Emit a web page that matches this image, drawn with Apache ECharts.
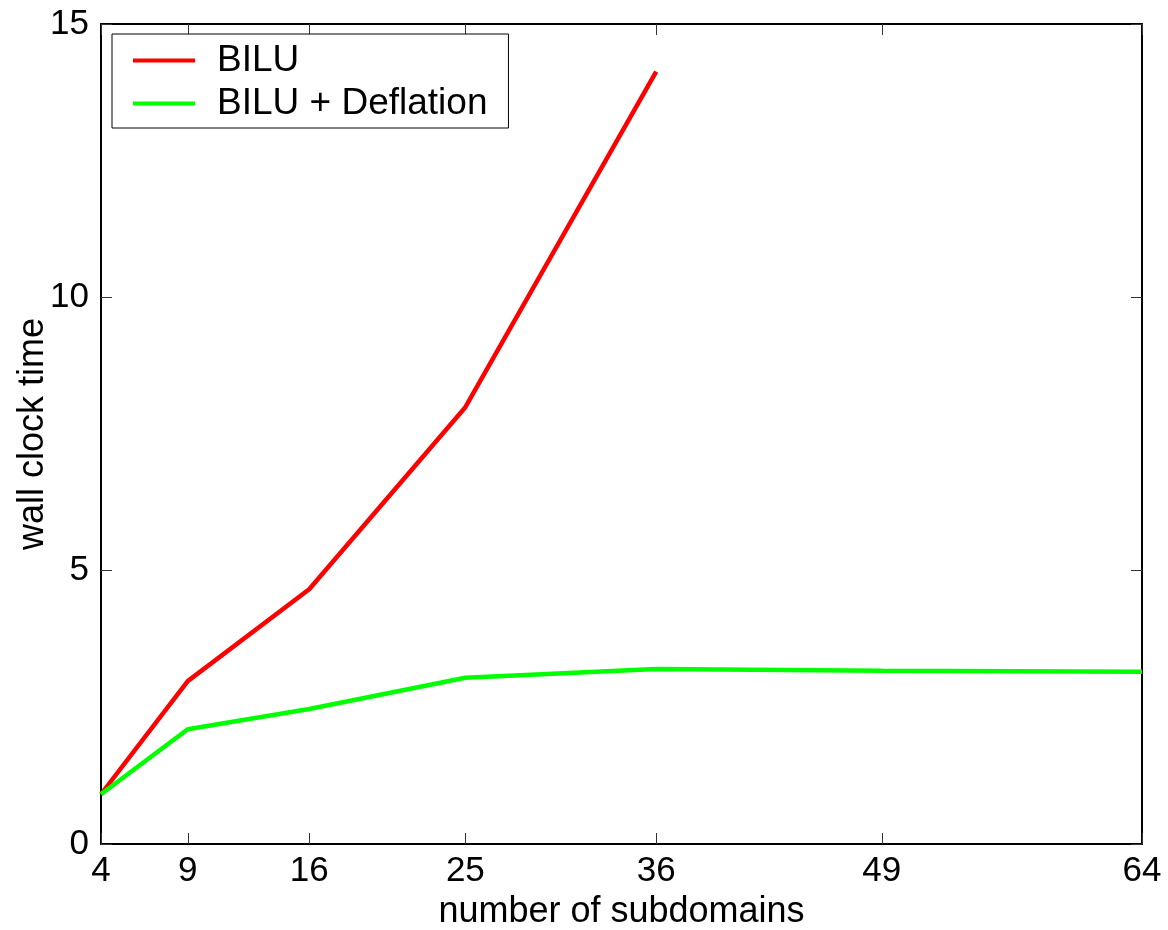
<!DOCTYPE html>
<html>
<head>
<meta charset="utf-8">
<script src="https://cdn.jsdelivr.net/npm/echarts@6/dist/echarts.min.js"></script>
<style>
html,body{margin:0;padding:0;background:#fff;}
#chart{width:1168px;height:930px;}
</style>
</head>
<body>
<div id="chart"></div>
<script>
const subdomains = [4, 9, 16, 25, 36, 49, 64];
const xTicks = [4, 9, 16, 25, 36, 49, 64];
const biluTime = [0.91, 2.98, 4.66, 7.99, 14.13];
const deflationTime = [0.91, 2.10, 2.47, 3.04, 3.20, 3.17, 3.15];
const seriesNames = ['BILU', 'BILU + Deflation'];

const FONT = "'Liberation Sans', Arial, Helvetica, sans-serif";

function pairs(xs, ys) { return ys.map((y, i) => [xs[i], y]); }

const chart = echarts.init(document.getElementById('chart'), null, {renderer: 'canvas'});
const axisLineStyle = {color: '#000', width: 2};
const tickStyle = {color: '#333', width: 1};

chart.setOption({
  animation: false,
  backgroundColor: '#fff',
  grid: {left: 101, right: 26, top: 24, bottom: 86, containLabel: false, outerBoundsMode: 'none'},
  legend: {
    orient: 'vertical',
    left: 112, top: 34,
    data: seriesNames,
    icon: 'rect',
    itemWidth: 62, itemHeight: 4,
    itemGap: 6,
    padding: [8, 21, 6, 21],
    backgroundColor: '#fff',
    borderColor: '#000', borderWidth: 1,
    borderRadius: 0,
    textStyle: {fontFamily: FONT, fontSize: 37, color: '#000', padding: [0, 0, 0, 17], lineHeight: 37}
  },
  xAxis: [{
    type: 'value', min: 4, max: 64, position: 'bottom',
    name: 'number of subdomains', nameLocation: 'middle', nameGap: 35,
    nameTextStyle: {fontFamily: FONT, fontSize: 36, color: '#000'},
    axisLine: {show: true, onZero: false, lineStyle: axisLineStyle},
    axisTick: {show: true, inside: true, length: 11, customValues: xTicks, lineStyle: tickStyle},
    axisLabel: {show: true, customValues: xTicks, margin: 10, fontFamily: FONT, fontSize: 35, color: '#000'},
    splitLine: {show: false}
  }, {
    type: 'value', min: 4, max: 64, position: 'top',
    axisLine: {show: true, onZero: false, lineStyle: axisLineStyle},
    axisTick: {show: true, inside: true, length: 11, customValues: xTicks, lineStyle: tickStyle},
    axisLabel: {show: false},
    splitLine: {show: false}
  }],
  yAxis: [{
    type: 'value', min: 0, max: 15, interval: 5, position: 'left',
    name: 'wall clock time', nameLocation: 'middle', nameGap: 50, nameRotate: 90,
    nameMoveOverlap: false,
    nameTextStyle: {fontFamily: FONT, fontSize: 36, color: '#000'},
    axisLine: {show: true, onZero: false, lineStyle: axisLineStyle},
    axisTick: {show: true, inside: true, length: 11, lineStyle: tickStyle},
    axisLabel: {show: true, margin: 12, fontFamily: FONT, fontSize: 35, color: '#000'},
    splitLine: {show: false}
  }, {
    type: 'value', min: 0, max: 15, interval: 5, position: 'right',
    axisLine: {show: true, onZero: false, lineStyle: axisLineStyle},
    axisTick: {show: true, inside: true, length: 11, lineStyle: tickStyle},
    axisLabel: {show: false},
    splitLine: {show: false}
  }],
  series: [{
    name: seriesNames[0], type: 'line', xAxisIndex: 0, yAxisIndex: 0,
    data: pairs(subdomains, biluTime),
    showSymbol: false, symbol: 'none',
    lineStyle: {color: '#ff0000', width: 4.5},
    itemStyle: {color: '#ff0000'}
  }, {
    name: seriesNames[1], type: 'line', xAxisIndex: 0, yAxisIndex: 0,
    data: pairs(subdomains, deflationTime),
    showSymbol: false, symbol: 'none',
    lineStyle: {color: '#00ff00', width: 4.5},
    itemStyle: {color: '#00ff00'}
  }]
});
</script>
</body>
</html>
